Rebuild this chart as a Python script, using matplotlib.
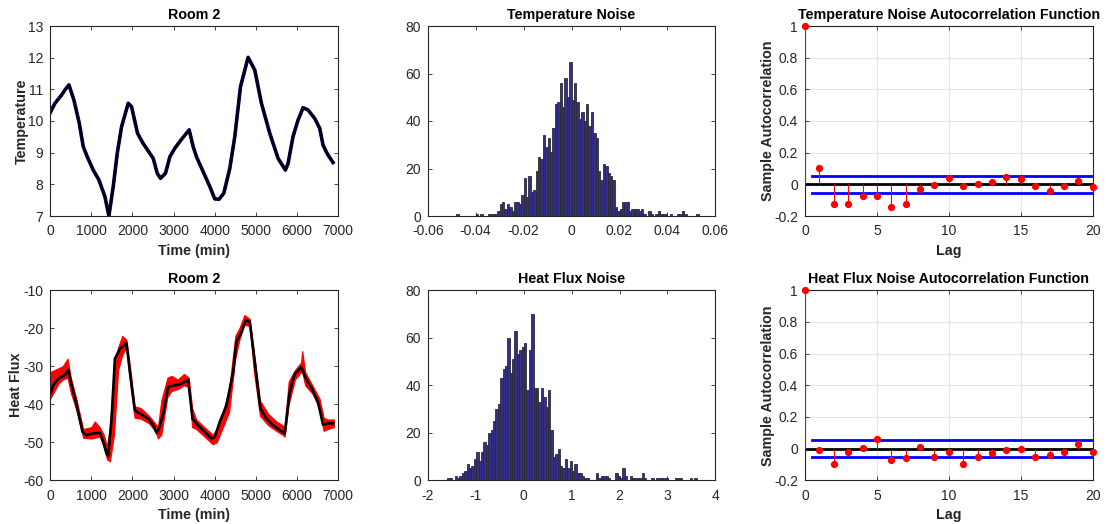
import numpy as np
import matplotlib
matplotlib.use("Agg")
import matplotlib.pyplot as plt

plt.rcParams['font.family'] = ['Liberation Sans', 'DejaVu Sans']
plt.rcParams['axes.unicode_minus'] = False

# ---------------- data ----------------
temp_t = [0, 113, 275, 356, 454, 575, 705, 802, 899, 1045, 1183, 1329, 1426, 1531, 1629,
          1734, 1896, 1977, 2123, 2260, 2504, 2601, 2682, 2803, 2909, 3030, 3192, 3378,
          3476, 3557, 3719, 3881, 4002, 4108, 4221, 4367, 4489, 4627, 4813, 4975, 5137,
          5340, 5542, 5720, 5785, 5906, 6028, 6150, 6271, 6433, 6555, 6636, 6741, 6879]
temp_v = [10.27, 10.56, 10.82, 10.98, 11.14, 10.66, 9.93, 9.19, 8.87, 8.45, 8.14, 7.61, 7.0,
          7.93, 8.98, 9.82, 10.56, 10.45, 9.61, 9.29, 8.82, 8.35, 8.19, 8.35, 8.87, 9.14,
          9.42, 9.72, 9.19, 8.87, 8.40, 7.93, 7.54, 7.53, 7.72, 8.50, 9.51, 11.08, 12.01,
          11.61, 10.56, 9.61, 8.82, 8.45, 8.66, 9.51, 10.03, 10.42, 10.35, 10.08, 9.77,
          9.24, 8.96, 8.69]

hf_t = [0, 73, 194, 356, 437, 518, 624, 786, 883, 1005, 1207, 1288, 1369, 1410, 1491, 1572,
        1693, 1855, 1936, 2058, 2180, 2382, 2504, 2585, 2650, 2747, 2868, 2990, 3192, 3354,
        3460, 3557, 3719, 3921, 4002, 4124, 4286, 4448, 4529, 4651, 4756, 4853, 4975, 5113,
        5258, 5420, 5582, 5704, 5825, 5947, 6109, 6214, 6352, 6514, 6636, 6757, 6879]
hf_v = [-37.2, -35.0, -33.2, -32.3, -30.9, -35.0, -39.4, -47.3, -48.2, -47.7, -47.5, -49.9,
        -53.0, -53.6, -43.8, -28.0, -25.4, -23.9, -31.5, -41.6, -42.5, -43.8, -45.5, -47.5,
        -46.3, -42.5, -35.4, -35.1, -34.6, -33.6, -43.8, -45.1, -46.9, -49.0, -48.6, -44.6,
        -40.3, -31.5, -23.6, -21.0, -17.9, -18.3, -28.8, -41.1, -43.8, -45.5, -46.8, -47.7,
        -36.8, -32.0, -30.2, -33.1, -35.7, -39.4, -45.4, -45.0, -45.0]

hf_red_t = [0, 100, 200, 300, 420, 500, 620, 800, 1000, 1080, 1200, 1300, 1380, 1450, 1550,
            1650, 1750, 1850, 1950, 2050, 2200, 2400, 2550, 2620, 2700, 2850, 2950, 3100,
            3250, 3370, 3450, 3550, 3750, 3950, 4050, 4200, 4350, 4500, 4600, 4720, 4850,
            4950, 5100, 5300, 5500, 5650, 5700, 5800, 5950, 6100, 6130, 6200, 6400, 6550,
            6650, 6750, 6900]
hf_red_hi = [-31.5, -31, -30.5, -30, -28, -33, -38, -46.5, -46, -44.5, -46, -48, -51, -46,
             -30, -25, -22, -23, -31, -40.5, -41, -43, -45, -46, -39, -33, -32.5, -33.5,
             -32, -33, -41, -44, -46, -48, -46.5, -42, -36, -22, -20, -16.5, -17.5, -26,
             -39, -42.5, -44.5, -45.5, -46, -34, -31, -29, -26, -31.5, -35.5, -38.5, -43.5,
             -44, -44]
hf_red_lo = [-38.5, -36.5, -34.5, -33.5, -33, -37, -41, -48.8, -49, -48.8, -48.5, -51,
             -54.5, -55, -48, -31, -27, -25, -35, -43.5, -43.8, -45, -47, -49, -48, -38,
             -36.5, -36, -35, -35.5, -46, -46.5, -48.5, -50.5, -50, -46, -42, -28, -23,
             -19, -19.5, -31, -43, -45.5, -47, -48, -48.5, -40, -33.5, -31.5, -31.5, -35,
             -37.5, -41.5, -47, -46.5, -46]

tn_bin_width = 0.001
tn_first_center = -0.0475
tn_counts = [1, 0, 0, 0, 0, 0, 0, 0, 1, 0, 1, 0, 0, 1, 1, 1, 1, 2, 5, 6, 3, 5, 4, 2, 6, 6,
             5, 9, 16, 8, 17, 10, 11, 19, 25, 24, 34, 29, 33, 27, 37, 47, 48, 56, 46, 58, 50,
             65, 49, 56, 48, 41, 44, 40, 47, 38, 44, 35, 33, 19, 15, 22, 21, 18, 17, 15, 4,
             2, 3, 6, 6, 6, 2, 3, 3, 3, 2, 3, 1, 0, 2, 1, 0, 1, 2, 1, 1, 1, 0, 1, 0, 0, 1,
             1, 2, 1, 0, 0, 0, 0, 1]

hn_bin_width = 0.05
hn_first_center = -1.565
hn_counts = [1, 1, 0, 2, 1, 2, 3, 4, 7, 5, 6, 9, 12, 8, 12, 16, 15, 20, 21, 25, 30, 32, 43,
             47, 48, 60, 45, 51, 63, 53, 55, 56, 58, 38, 55, 70, 39, 39, 33, 39, 35, 31, 38,
             21, 10, 11, 13, 6, 5, 9, 5, 8, 4, 7, 3, 3, 2, 1, 1, 0, 0, 0, 3, 1, 2, 2, 2, 1,
             0, 0, 3, 2, 1, 5, 2, 0, 2, 1, 1, 1, 1, 3, 1, 0, 0, 1, 0, 1, 1, 1, 1, 1, 0, 0,
             0, 1, 1, 1, 0, 0, 0, 1, 0, 1]

lags = list(range(21))
acf_temp = [1, 0.105, -0.126, -0.126, -0.072, -0.072, -0.143, -0.126, -0.03, -0.004, 0.038,
            -0.01, 0.004, 0.015, 0.044, 0.032, -0.01, -0.044, -0.01, 0.021, -0.017]
acf_hf = [1, -0.01, -0.1, -0.02, 0.006, 0.06, -0.07, -0.057, 0.012, -0.05, -0.02, -0.1,
          -0.05, -0.03, -0.01, -0.003, -0.05, -0.042, -0.02, 0.027, -0.02]
bound_temp = 0.053
bound_hf = 0.055

# ---------------- style ----------------
TXT = '#262626'
SP = '#262626'
TICK_FS = 10
LAB_FS = 10.3
TIT_FS = 10.3

fig = plt.figure(figsize=(11.08, 5.24), dpi=100)
W, H = 1108, 524


def make_ax(x0, y0, x1, y1):
    return fig.add_axes([x0 / W, 1 - y1 / H, (x1 - x0) / W, (y1 - y0) / H])


def style(ax):
    for s in ax.spines.values():
        s.set_color(SP)
        s.set_linewidth(0.8)
    ax.tick_params(direction='in', top=True, right=True, length=3, width=0.6,
                   colors=SP, labelcolor=TXT, labelsize=TICK_FS)
    ax.tick_params(axis='x', pad=6)
    ax.tick_params(axis='y', pad=5)


cols = [50.3, 427.7, 805]
cw = 287.7
rows = [(26, 216), (290.3, 480.3)]

# ---- top-left: temperature ----
ax = make_ax(cols[0], rows[0][0], cols[0] + cw, rows[0][1])
ax.plot(temp_t, temp_v, color='#0000a0', lw=2.6)
ax.plot(temp_t, temp_v, color='black', lw=1.9)
ax.set_xlim(0, 7000)
ax.set_ylim(7, 13)
ax.set_xticks(range(0, 7001, 1000))
ax.set_yticks(range(7, 14))
ax.set_title('Room 2', fontsize=TIT_FS, fontweight='bold', color='black', pad=5)
ax.set_xlabel('Time (min)', fontsize=LAB_FS, fontweight='bold', color=TXT, labelpad=4)
ax.set_ylabel('Temperature', fontsize=LAB_FS, fontweight='bold', color=TXT, labelpad=-0.5)
style(ax)

# ---- bottom-left: heat flux ----
ax = make_ax(cols[0], rows[1][0], cols[0] + cw, rows[1][1])
ax.fill_between(hf_red_t, hf_red_lo, hf_red_hi, color='red', lw=0.8, edgecolor='red')
ax.plot(hf_t, hf_v, color='black', lw=1.9)
ax.set_xlim(0, 7000)
ax.set_ylim(-60, -10)
ax.set_xticks(range(0, 7001, 1000))
ax.set_yticks(range(-60, -9, 10))
ax.set_title('Room 2', fontsize=TIT_FS, fontweight='bold', color='black', pad=5)
ax.set_xlabel('Time (min)', fontsize=LAB_FS, fontweight='bold', color=TXT, labelpad=4)
ax.set_ylabel('Heat Flux', fontsize=LAB_FS, fontweight='bold', color=TXT, labelpad=0)
style(ax)

BAR_FACE = '#34308a'
BAR_EDGE = '#2a2a3a'

# ---- top-middle: temperature noise histogram ----
ax = make_ax(cols[1], rows[0][0], cols[1] + cw, rows[0][1])
centers = tn_first_center + tn_bin_width * np.arange(len(tn_counts))
ax.bar(centers, tn_counts, width=tn_bin_width, color=BAR_FACE, edgecolor=BAR_EDGE, lw=0.6)
ax.set_xlim(-0.06, 0.06)
ax.set_ylim(0, 80)
ax.set_xticks(np.round(np.arange(-0.06, 0.061, 0.02), 2))
ax.set_xticklabels(['-0.06', '-0.04', '-0.02', '0', '0.02', '0.04', '0.06'])
ax.set_yticks(range(0, 81, 20))
ax.set_title('Temperature Noise', fontsize=TIT_FS, fontweight='bold', color='black', pad=5)
style(ax)

# ---- bottom-middle: heat flux noise histogram ----
ax = make_ax(cols[1], rows[1][0], cols[1] + cw, rows[1][1])
centers = hn_first_center + hn_bin_width * np.arange(len(hn_counts))
ax.bar(centers, hn_counts, width=hn_bin_width, color=BAR_FACE, edgecolor=BAR_EDGE, lw=0.6)
ax.set_xlim(-2, 4)
ax.set_ylim(0, 80)
ax.set_xticks(range(-2, 5))
ax.set_yticks(range(0, 81, 20))
ax.set_title('Heat Flux Noise', fontsize=TIT_FS, fontweight='bold', color='black', pad=5)
style(ax)


# ---- right: ACF ----
def acf_plot(ax, vals, bound, title):
    ax.grid(True, color='#e3e3e3', lw=0.8)
    ax.set_axisbelow(True)
    ax.vlines(lags, 0, vals, color='red', lw=0.8, zorder=3)
    ax.plot(lags, vals, 'o', color='red', ms=4.2, zorder=4, clip_on=False)
    ax.axhline(0, color='black', lw=2.0, zorder=2)
    ax.plot([0.5, 20], [bound, bound], color='blue', lw=2.0, zorder=2)
    ax.plot([0.5, 20], [-bound, -bound], color='blue', lw=2.0, zorder=2)
    ax.set_xlim(0, 20)
    ax.set_ylim(-0.2, 1)
    ax.set_xticks(range(0, 21, 5))
    ax.set_yticks([-0.2, 0, 0.2, 0.4, 0.6, 0.8, 1])
    ax.set_yticklabels(['-0.2', '0', '0.2', '0.4', '0.6', '0.8', '1'])
    ax.set_title(title, fontsize=TIT_FS, fontweight='bold', color='black', pad=5)
    ax.set_xlabel('Lag', fontsize=LAB_FS, fontweight='bold', color=TXT, labelpad=4)
    ax.set_ylabel('Sample Autocorrelation', fontsize=LAB_FS, fontweight='bold', color=TXT,
                  labelpad=-1)
    style(ax)


ax = make_ax(cols[2], rows[0][0], cols[2] + cw, rows[0][1])
acf_plot(ax, acf_temp, bound_temp, 'Temperature Noise Autocorrelation Function')
ax = make_ax(cols[2], rows[1][0], cols[2] + cw, rows[1][1])
acf_plot(ax, acf_hf, bound_hf, 'Heat Flux Noise Autocorrelation Function')

fig.savefig('out.png', dpi=100, facecolor='white')
